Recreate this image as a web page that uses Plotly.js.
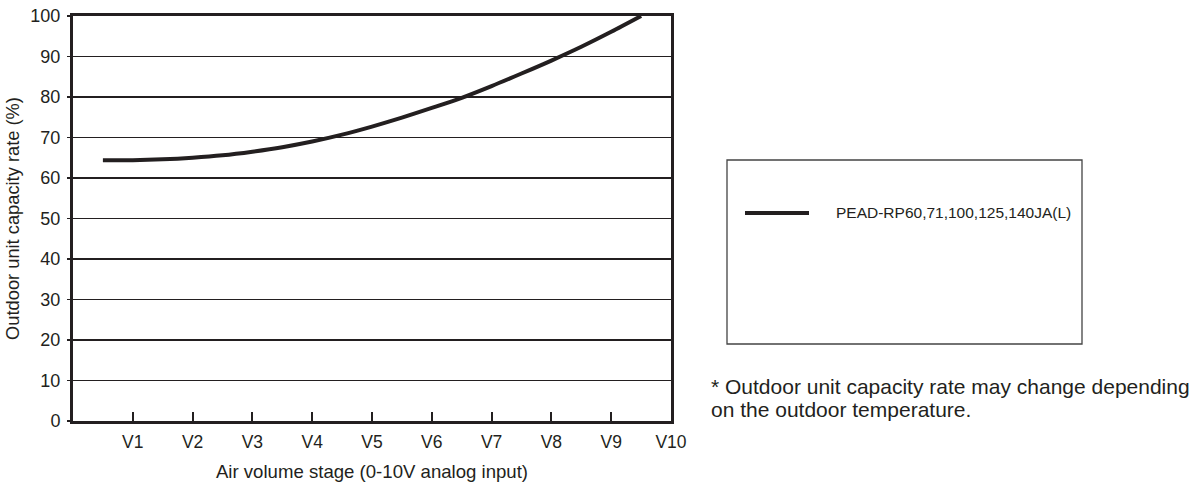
<!DOCTYPE html>
<html>
<head>
<meta charset="utf-8">
<script src="https://cdn.plot.ly/plotly-3.0.1.min.js"></script>
<style>html,body{margin:0;padding:0;background:#fff;}#chart{width:1204px;height:482px;}</style>
</head>
<body>
<div id="chart"></div>
<script>
// Data
const stageValues = [0.5, 1.0, 1.5, 2.0, 2.5, 3.0, 3.5, 4.0, 4.5, 5.0, 5.5, 6.0, 6.5, 7.0, 7.5, 8.0, 8.5, 9.0, 9.5];
const capacityRate = [64.4, 64.4, 64.6, 65.0, 65.6, 66.5, 67.6, 69.0, 70.7, 72.7, 74.9, 77.3, 79.8, 82.7, 85.8, 89.0, 92.4, 96.1, 100.0];
const tickPositions = [1, 2, 3, 4, 5, 6, 7, 8, 9, 10];
const tickLabels = ["V1", "V2", "V3", "V4", "V5", "V6", "V7", "V8", "V9", "V10"];
const seriesName = "PEAD-RP60,71,100,125,140JA(L)";
const footnoteLines = ["* Outdoor unit capacity rate may change depending", "on the outdoor temperature."];

const ink = "#231f20";
const font = "Liberation Sans, Arial, sans-serif";

const trace = {
  x: stageValues,
  y: capacityRate,
  type: "scatter",
  mode: "lines",
  line: {color: ink, width: 4, shape: "spline", smoothing: 0.8},
  name: seriesName,
  showlegend: false,
  hoverinfo: "skip"
};

const px = v => (v - 73) / 598;
const py = v => (421 - v) / 405;

const layout = {
  width: 1204,
  height: 482,
  margin: {l: 73, r: 533, t: 16, b: 61},
  paper_bgcolor: "#fff",
  plot_bgcolor: "#fff",
  font: {family: font, color: ink, size: 17},
  xaxis: {
    range: [0, 10],
    tickvals: tickPositions,
    ticktext: tickLabels,
    ticks: "inside",
    ticklen: 9,
    tickwidth: 2,
    tickcolor: ink,
    ticklabelstandoff: 3,
    showline: true,
    linecolor: ink,
    linewidth: 3,
    mirror: true,
    showgrid: false,
    zeroline: false,
    tickfont: {size: 17.5, color: ink},
    title: {text: "Air volume stage (0-10V analog input)", font: {size: 18.6, color: ink}, standoff: 14},
    fixedrange: true
  },
  yaxis: {
    range: [0, 100],
    dtick: 10,
    ticks: "outside",
    ticklen: 3,
    tickwidth: 1.3,
    tickcolor: ink,
    ticklabelstandoff: 3,
    showline: true,
    linecolor: ink,
    linewidth: 3,
    mirror: true,
    showgrid: true,
    gridcolor: ink,
    gridwidth: 1.3,
    zeroline: false,
    tickfont: {size: 18, color: ink},
    title: {text: "Outdoor unit capacity rate (%)", font: {size: 18.3, color: ink}, standoff: 6},
    fixedrange: true
  },
  shapes: [
    // legend box
    {type: "rect", xref: "paper", yref: "paper",
     x0: px(727), x1: px(1082), y0: py(344), y1: py(160),
     line: {color: "#444", width: 1.3}, fillcolor: "rgba(0,0,0,0)"},
    // legend sample line
    {type: "line", xref: "paper", yref: "paper",
     x0: px(745), x1: px(809), y0: py(213), y1: py(213),
     line: {color: ink, width: 4}}
  ],
  annotations: [
    {xref: "paper", yref: "paper", x: px(834), y: py(213),
     xanchor: "left", yanchor: "middle", showarrow: false,
     text: seriesName, font: {size: 15.5, color: ink, family: font}},
    {xref: "paper", yref: "paper", x: px(709), y: py(386),
     xanchor: "left", yanchor: "middle", align: "left", showarrow: false,
     text: footnoteLines[0], font: {size: 21, color: ink, family: font}},
    {xref: "paper", yref: "paper", x: px(709), y: py(409),
     xanchor: "left", yanchor: "middle", align: "left", showarrow: false,
     text: footnoteLines[1], font: {size: 21, color: ink, family: font}}
  ],
  showlegend: false
};

Plotly.newPlot("chart", [trace], layout, {staticPlot: true, displayModeBar: false});
</script>
</body>
</html>
